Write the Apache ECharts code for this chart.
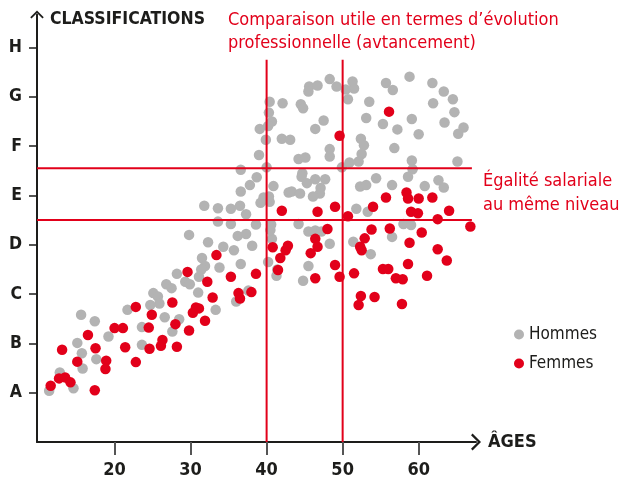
<!DOCTYPE html>
<html>
<head>
<meta charset="utf-8">
<script src="https://cdn.jsdelivr.net/npm/echarts@6/dist/echarts.min.js"></script>
<style>
  html, body { margin: 0; padding: 0; background: #fff; }
  #chart { width: 619px; height: 479px; }
</style>
</head>
<body>
<div id="chart"></div>
<script>
// [age, classification level] ; A = 1 ... H = 8
const hommes = [
  [28.2,3.41],[29.3,3.25],[29.9,3.20],[26.8,3.20],[27.5,3.12],[25.1,3.02],[25.7,2.95],[25.9,2.81],[24.7,2.78],[31.0,3.03],
  [21.7,2.68],[15.6,2.58],[17.4,2.45],[26.6,2.53],[28.5,2.49],[23.6,2.33],[27.6,2.24],[19.2,2.14],[15.1,2.01],[15.7,1.80],
  [23.6,1.97],[17.6,1.68],[15.8,1.49],[12.8,1.41],[14.6,1.09],[11.4,1.04],
  [36.6,5.52],[38.7,5.37],[37.8,5.21],[36.6,5.08],[40.9,5.19],[42.9,5.06],[31.8,4.79],[33.6,4.74],[35.3,4.73],[36.5,4.79],
  [37.3,4.62],[39.2,4.85],[40.4,4.87],[33.6,4.47],[35.3,4.42],[38.6,4.41],[40.6,4.41],[29.8,4.20],[32.3,4.05],[34.3,3.96],
  [36.2,4.18],[37.3,4.22],[35.7,3.89],[38.1,3.98],[40.7,4.12],[31.5,3.73],[31.9,3.57],[31.4,3.50],[31.1,3.35],[33.8,3.54],
  [36.6,3.61],[40.2,3.65],[41.4,3.50],[41.3,3.37],[33.3,2.68],[36.0,2.85],[37.6,3.07],
  [48.3,7.36],[51.3,7.31],[51.5,7.17],[45.6,7.21],[46.7,7.23],[45.5,7.11],[49.2,7.21],[50.4,7.15],[50.7,6.95],[53.5,6.90],
  [40.4,6.90],[42.1,6.87],[44.5,6.85],[44.8,6.77],[40.3,6.68],[40.7,6.50],[40.2,6.41],[39.1,6.35],[47.5,6.52],[46.4,6.35],
  [53.1,6.57],[39.9,6.13],[42.0,6.15],[43.1,6.13],[52.4,6.15],[52.8,6.02],[39.0,5.82],[48.3,5.94],[48.3,5.79],[44.2,5.74],
  [45.1,5.77],[52.5,5.84],[50.9,5.67],[52.1,5.69],[40.0,5.57],[49.9,5.57],[44.7,5.45],[44.6,5.38],[45.3,5.25],[46.4,5.33],
  [47.7,5.33],[47.1,5.15],[47.0,5.04],[43.3,5.08],[44.4,5.04],[46.1,4.98],[39.6,4.96],[40.3,4.98],[52.3,5.18],[53.1,5.21],
  [51.8,4.73],[53.3,4.67],[44.2,4.42],[45.5,4.27],[46.4,4.29],[47.2,4.27],[40.5,4.30],[48.3,4.02],[51.4,4.06],[45.5,3.57],
  [44.8,3.27],
  [58.8,7.41],[55.7,7.28],[56.6,7.14],[61.8,7.28],[63.3,7.11],[64.5,6.95],[61.9,6.87],[64.7,6.69],[59.1,6.55],[55.3,6.45],
  [57.2,6.34],[63.4,6.48],[60.0,6.24],[65.9,6.38],[65.2,6.25],[56.8,5.96],[59.1,5.71],[59.2,5.53],[58.6,5.38],[65.1,5.69],
  [54.4,5.35],[56.5,5.21],[60.8,5.19],[63.3,5.16],[62.6,5.31],
  [58.0,4.42],[59.0,4.40],[56.5,4.16],[53.7,3.81]
];

const femmes = [
  [29.6,3.45],[22.8,2.74],[27.6,2.83],[24.9,2.58],[30.7,2.73],[30.3,2.62],[31.1,2.71],[20.0,2.31],[21.1,2.31],[24.5,2.32],
  [28.0,2.39],[29.8,2.26],[16.5,2.17],[13.1,1.87],[17.5,1.90],[21.4,1.92],[24.6,1.89],[26.3,2.07],[26.1,1.95],[28.2,1.93],
  [15.1,1.63],[18.9,1.65],[18.8,1.48],[22.8,1.62],[12.7,1.29],[13.5,1.31],[14.2,1.21],[11.6,1.14],[17.4,1.05],
  [42.0,4.69],[33.4,3.79],[32.2,3.25],[35.3,3.35],[38.6,3.41],[40.8,3.95],[42.5,3.89],[41.8,3.73],[41.5,3.49],[32.9,2.93],
  [36.3,3.02],[36.5,2.91],[38.0,3.04],[31.9,2.46],
  [46.7,4.67],[49.0,4.77],[50.7,4.58],[48.0,4.32],[46.4,4.12],[46.7,3.96],[45.8,3.83],[42.8,3.98],[52.3,3.96],[52.5,3.89],
  [52.9,4.13],[49.0,3.59],[49.6,3.35],[46.4,3.32],[51.5,3.42],[52.4,2.96],
  [49.6,6.21],[56.1,6.70],[55.7,4.96],[58.4,5.06],[60.0,4.94],[61.8,4.96],[58.6,4.94],[54.0,4.77],[59.0,4.67],[59.9,4.64],
  [62.5,4.52],[64.0,4.69],[66.8,4.37],[53.8,4.31],[56.2,4.33],[60.4,4.25],[58.8,4.04],[62.5,3.91],[63.7,3.68],[58.6,3.61],
  [55.3,3.51],[56.0,3.51],[57.0,3.32],[57.9,3.30],[61.1,3.37],[52.1,2.78],[54.2,2.94],[57.8,2.80]
];

const levelLabels = ['A', 'B', 'C', 'D', 'E', 'F', 'G', 'H'];
const levelTicks = [1, 2, 3, 4, 5, 6, 7, 8];
const ageTicks = [20, 30, 40, 50, 60];

// repères : âges 40 / 50, niveaux de part et d'autre de E
const refAges = [40, 50];
const refLevels = [4.5, 5.55];

const AGE_MIN = 9.8, AGE_MAX = 67.54;
const LEVEL_MAX = 8.67;

const RED = '#e2001a';
const GREY = '#b3b3b3';
const INK = '#1d1d1b';
const FONT = '"DejaVu Sans Condensed", "Liberation Sans", sans-serif';

// open chevron used as axis arrow (points up, rotated by echarts)
const chevron = 'path://M0,7 L7,0 L14,7 L12.7,8.3 L7,2.6 L1.3,8.3 Z';

const chart = echarts.init(document.getElementById('chart'));

const refSeries = [];
refAges.forEach(a => {
  refSeries.push({
    type: 'line', data: [[a, 0], [a, 7.75]], symbol: 'none', silent: true, z: 5,
    lineStyle: { color: RED, width: 2 }
  });
});
refLevels.forEach(l => {
  refSeries.push({
    type: 'line', data: [[AGE_MIN, l], [67.0, l]], symbol: 'none', silent: true, z: 5,
    lineStyle: { color: RED, width: 2 }
  });
});

const option = {
  animation: false,
  title: [
    {
      text: 'CLASSIFICATIONS', left: 50, top: 8, padding: 0,
      textStyle: { fontFamily: FONT, fontWeight: 'bold', fontSize: 17.5, lineHeight: 23, color: INK }
    },
    {
      text: 'Comparaison utile en termes d’évolution\nprofessionnelle (avtancement)', left: 228, top: 8.5, padding: 0,
      textStyle: { fontFamily: FONT, fontWeight: 'normal', fontSize: 18, lineHeight: 23, color: RED }
    },
    {
      text: 'Égalité salariale\nau même niveau', left: 483, top: 170, padding: 0,
      textStyle: { fontFamily: FONT, fontWeight: 'normal', fontSize: 18, lineHeight: 23.3, color: RED }
    }
  ],
  legend: {
    orient: 'vertical', left: 514, top: 326, padding: 0,
    itemWidth: 10, itemHeight: 10, itemGap: 12, icon: 'circle',
    data: ['Hommes', 'Femmes'],
    textStyle: { fontFamily: FONT, fontSize: 17, color: INK }
  },
  grid: { left: 37, right: 143, top: 14.5, bottom: 37 },
  xAxis: {
    type: 'value', min: AGE_MIN, max: AGE_MAX,
    name: 'ÂGES', nameLocation: 'end', nameGap: 12,
    nameTextStyle: { fontFamily: FONT, fontWeight: 'bold', fontSize: 18, color: INK, align: 'left', verticalAlign: 'middle' },
    axisLine: { onZero: false, symbol: ['none', chevron], symbolSize: [18, 10], lineStyle: { color: INK, width: 2 } },
    axisTick: { show: true, customValues: ageTicks, length: 13, lineStyle: { color: '#555', width: 2 } },
    axisLabel: { customValues: ageTicks, margin: 19, fontFamily: FONT, fontWeight: 'bold', fontSize: 18, color: INK },
    splitLine: { show: false }
  },
  yAxis: {
    type: 'value', min: 0, max: LEVEL_MAX,
    axisLine: { show: true, onZero: false, symbol: ['none', chevron], symbolSize: [14, 8], lineStyle: { color: INK, width: 2 } },
    axisTick: { show: true, customValues: levelTicks, length: 8, lineStyle: { color: INK, width: 1.5 } },
    axisLabel: {
      customValues: levelTicks, margin: 15, fontFamily: FONT, fontWeight: 'bold', fontSize: 17.5, color: INK,
      formatter: v => levelLabels[Math.round(v) - 1] || ''
    },
    splitLine: { show: false }
  },
  series: [
    {
      name: 'Hommes', type: 'scatter', data: hommes, symbolSize: 10.5, z: 2,
      itemStyle: { color: GREY, opacity: 1 }
    },
    {
      name: 'Femmes', type: 'scatter', data: femmes, symbolSize: 10.5, z: 3,
      itemStyle: { color: RED, opacity: 1 }
    }
  ].concat(refSeries)
};

chart.setOption(option);
window.addEventListener('resize', () => chart.resize());
</script>
</body>
</html>
